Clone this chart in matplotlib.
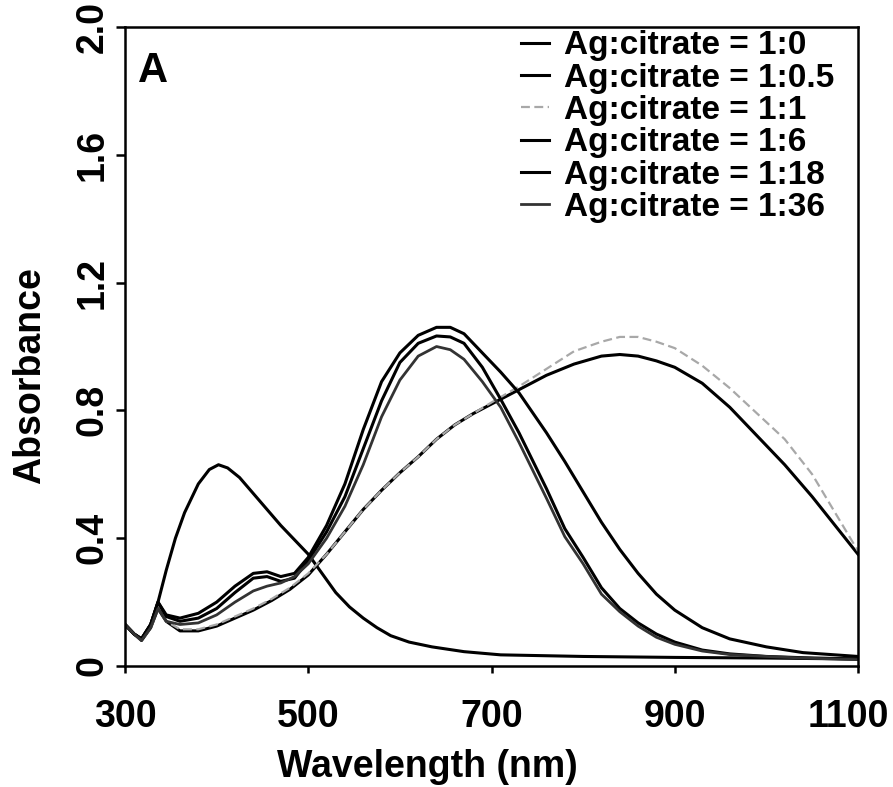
import matplotlib
matplotlib.use("Agg")
import matplotlib.pyplot as plt
import matplotlib.transforms as mtransforms

plt.rcParams['font.family'] = ['Liberation Sans', 'DejaVu Sans']
plt.rcParams['font.weight'] = 'bold'

# UV-vis spectra (wavelength in nm, absorbance)
labels = ["Ag:citrate = 1:0", "Ag:citrate = 1:0.5", "Ag:citrate = 1:1",
          "Ag:citrate = 1:6", "Ag:citrate = 1:18", "Ag:citrate = 1:36"]

wl_0 = [300, 310, 318, 328, 336, 345, 355, 365, 380, 392, 402, 412, 425, 440,
        455, 470, 485, 500, 515, 530, 545, 560, 575, 590, 610, 635, 670, 710,
        800, 900, 1000, 1100]
abs_0 = [0.13, 0.10, 0.085, 0.13, 0.20, 0.30, 0.40, 0.48, 0.57, 0.615, 0.63,
         0.62, 0.59, 0.54, 0.49, 0.44, 0.395, 0.35, 0.29, 0.23, 0.185, 0.15,
         0.12, 0.095, 0.075, 0.06, 0.045, 0.035, 0.03, 0.027, 0.025, 0.022]

wl_broad = [300, 310, 318, 328, 336, 345, 360, 380, 400, 420, 440, 460, 480,
            500, 520, 540, 560, 580, 600, 620, 640, 660, 680, 700, 730, 760,
            790, 820, 840, 860, 880, 900, 930, 960, 990, 1020, 1050, 1075, 1100]
abs_05 = [0.13, 0.10, 0.08, 0.12, 0.18, 0.14, 0.11, 0.11, 0.125, 0.15, 0.175,
          0.205, 0.24, 0.285, 0.35, 0.42, 0.49, 0.55, 0.605, 0.655, 0.71, 0.755,
          0.79, 0.82, 0.865, 0.91, 0.945, 0.97, 0.975, 0.97, 0.955, 0.935,
          0.885, 0.81, 0.72, 0.63, 0.53, 0.44, 0.35]
abs_1 = [0.13, 0.10, 0.08, 0.12, 0.18, 0.14, 0.115, 0.115, 0.13, 0.155, 0.18,
         0.21, 0.245, 0.29, 0.35, 0.42, 0.49, 0.55, 0.605, 0.655, 0.71, 0.755,
         0.79, 0.825, 0.875, 0.93, 0.985, 1.015, 1.03, 1.03, 1.015, 0.995,
         0.94, 0.87, 0.79, 0.71, 0.60, 0.48, 0.36]

wl_narrow = [300, 310, 318, 328, 336, 345, 360, 380, 400, 420, 440, 455, 470,
             485, 500, 520, 540, 560, 580, 600, 620, 640, 655, 670, 690, 710,
             730, 760, 780, 800, 820, 840, 860, 880, 900, 930, 960, 1000, 1040,
             1100]
abs_6 = [0.13, 0.10, 0.085, 0.13, 0.20, 0.16, 0.15, 0.165, 0.20, 0.25, 0.29,
         0.295, 0.28, 0.29, 0.34, 0.44, 0.57, 0.74, 0.89, 0.98, 1.035, 1.06,
         1.06, 1.04, 0.98, 0.92, 0.855, 0.73, 0.64, 0.545, 0.45, 0.365, 0.29,
         0.225, 0.175, 0.12, 0.085, 0.06, 0.042, 0.03]
abs_18 = [0.13, 0.10, 0.085, 0.13, 0.20, 0.155, 0.14, 0.15, 0.18, 0.23, 0.275,
          0.28, 0.265, 0.275, 0.33, 0.42, 0.53, 0.68, 0.83, 0.95, 1.01, 1.033,
          1.03, 1.01, 0.935, 0.835, 0.73, 0.555, 0.43, 0.34, 0.245, 0.18,
          0.135, 0.10, 0.075, 0.05, 0.038, 0.03, 0.026, 0.022]
abs_36 = [0.13, 0.10, 0.08, 0.12, 0.18, 0.14, 0.13, 0.135, 0.16, 0.20, 0.235,
          0.25, 0.26, 0.28, 0.32, 0.40, 0.50, 0.63, 0.78, 0.895, 0.97, 1.0,
          0.99, 0.96, 0.89, 0.81, 0.70, 0.525, 0.405, 0.32, 0.225, 0.17,
          0.125, 0.09, 0.068, 0.047, 0.036, 0.03, 0.025, 0.02]

fig = plt.figure(figsize=(8.93, 7.87), dpi=100)
ax = fig.add_axes([0.14, 0.1537, 0.8208, 0.812])

ax.plot(wl_0, abs_0, color='black', lw=2.2, label=labels[0])
ax.plot(wl_broad, abs_05, color='black', lw=2.2, label=labels[1])
ax.plot(wl_broad, abs_1, color='#a8a8a8', lw=1.6, ls=(0, (4, 2)), label=labels[2])
ax.plot(wl_narrow, abs_6, color='black', lw=2.2, label=labels[3])
ax.plot(wl_narrow, abs_18, color='black', lw=2.2, label=labels[4])
ax.plot(wl_narrow, abs_36, color='#333333', lw=2.0, label=labels[5])

ax.set_xlim(300, 1100)
ax.set_ylim(0, 2.0)
ax.set_xticks([300, 500, 700, 900, 1100])
ax.set_yticks([0, 0.4, 0.8, 1.2, 1.6, 2.0])
ax.set_yticklabels(['0', '0.4', '0.8', '1.2', '1.6', '2.0'])

for sp in ax.spines.values():
    sp.set_linewidth(1.8)
ax.tick_params(axis='x', direction='out', length=5, width=1.8, pad=19,
               labelsize=27)
ax.tick_params(axis='y', direction='out', length=6.5, width=1.8, pad=4,
               labelsize=27, labelrotation=90)
for t in ax.get_yticklabels():
    t.set_verticalalignment('center')

# the last x label sits a little inside the figure edge, as in the scan
last = ax.get_xticklabels()[-1]
last.set_transform(last.get_transform() +
                   mtransforms.ScaledTranslation(-10 / 100, 0, fig.dpi_scale_trans))

ax.set_xlabel('Wavelength (nm)', fontsize=27, fontweight='bold')
ax.xaxis.set_label_coords(0.413, -0.13)
ax.set_ylabel('Absorbance', fontsize=27, fontweight='bold')
ax.yaxis.set_label_coords(-0.105, 0.455)

ax.text(0.018, 0.914, 'A', transform=ax.transAxes, fontsize=30,
        fontweight='bold', va='baseline', ha='left')

ax.legend(loc='upper left', bbox_to_anchor=(0.54, 0.995), frameon=False,
          fontsize=24, handlelength=0.85, handletextpad=0.45, labelspacing=0.04,
          borderpad=0, borderaxespad=0)

fig.savefig('out.png', dpi=100)
